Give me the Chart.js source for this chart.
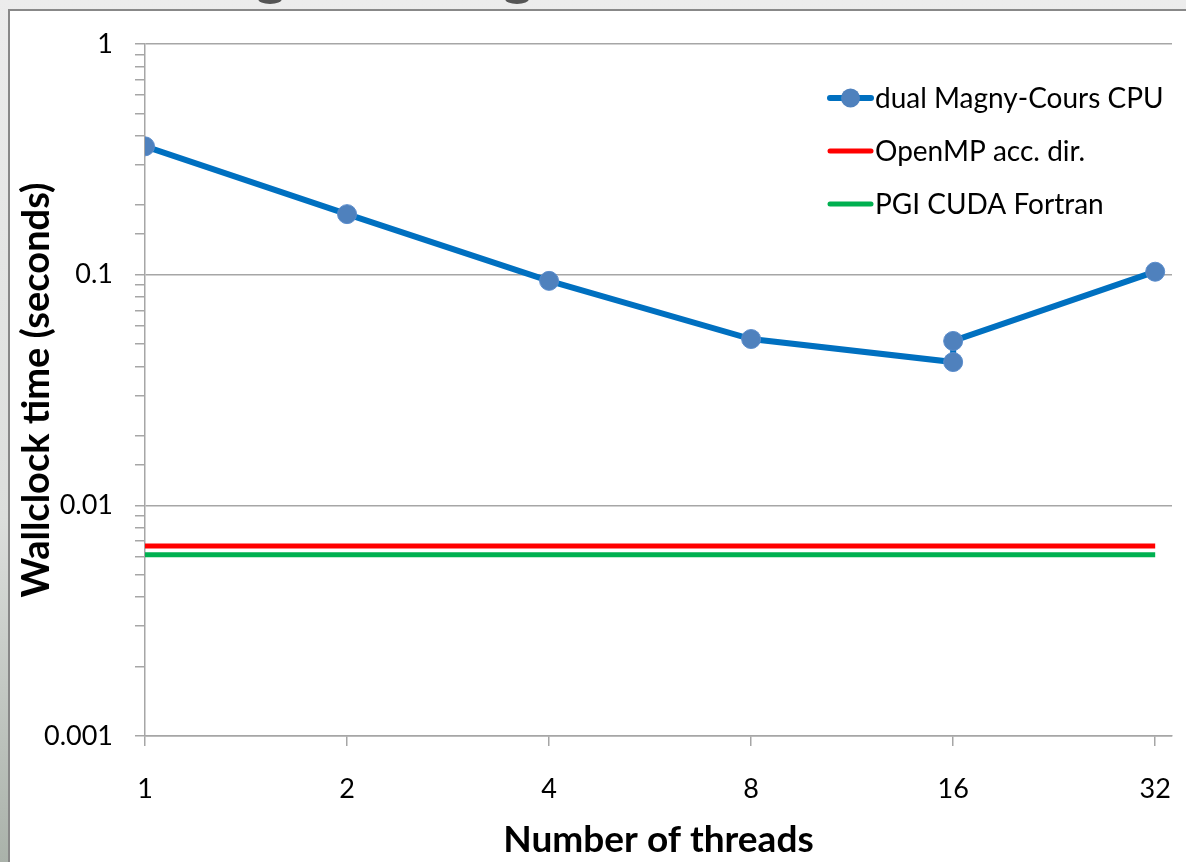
<!DOCTYPE html>
<html>
<head>
<meta charset="utf-8">
<script src="https://cdn.jsdelivr.net/npm/chart.js@4/dist/chart.umd.min.js"></script>
<style>
  html, body { margin: 0; padding: 0; }
  body {
    width: 1186px; height: 862px; overflow: hidden; position: relative;
    background: linear-gradient(to bottom, #ececec 0%, #dcdedc 60%, #aab2aa 100%);
  }
  #box {
    position: absolute; left: 8px; top: 9px; width: 1200px; height: 900px;
    background: #fff; border: 2px solid #888; box-sizing: border-box;
  }
  .frag { position: absolute; top: -6px; width: 24px; height: 10px; border-radius: 50%; background: #555; }
  #wrap { position: absolute; left: 0; top: 0; width: 1186px; height: 862px; }
</style>
</head>
<body>
<div class="frag" style="left:258px"></div>
<div class="frag" style="left:505px"></div>
<div id="box"></div>
<div id="wrap"><canvas id="chart" width="1186" height="862"></canvas></div>
<script>
// 스레드 수별 실행 시간 (로그-로그)
const threads = [1, 2, 4, 8, 16, 16, 32];
const cpuTimes = [0.36, 0.183, 0.094, 0.0526, 0.0418, 0.0516, 0.103];
const flatX = [1, 32];
const openmpTimes = [0.00667, 0.00667];
const cudaTimes = [0.0061, 0.0061];
const xTicks = [1, 2, 4, 8, 16, 32];
const yTicks = [0.001, 0.01, 0.1, 1];
const seriesLabels = ['dual Magny-Cours CPU', 'OpenMP acc. dir.', 'PGI CUDA Fortran'];

const FONT = 'Lato, "Open Sans", sans-serif';

const toPoints = (xs, ys) => xs.map((x, i) => ({ x, y: ys[i] }));

// 범례는 플롯 안쪽 오른쪽 위에 직접 그린다
const insideLegend = {
  id: 'insideLegend',
  afterDraw(chart) {
    const { ctx } = chart;
    const x0 = 830, x1 = 871, tx = 875;
    const rows = [98, 151, 204];
    ctx.save();
    ctx.font = '28px ' + FONT;
    ctx.textBaseline = 'middle';
    chart.data.datasets.forEach((ds, i) => {
      const y = rows[i];
      ctx.strokeStyle = ds.borderColor;
      ctx.lineWidth = ds.borderWidth;
      ctx.lineCap = 'round';
      ctx.beginPath();
      ctx.moveTo(x0, y);
      ctx.lineTo(x1, y);
      ctx.stroke();
      if (ds.pointRadius > 0) {
        ctx.fillStyle = ds.pointBackgroundColor;
        ctx.beginPath();
        ctx.arc((x0 + x1) / 2, y, ds.pointRadius, 0, Math.PI * 2);
        ctx.fill();
      }
      ctx.fillStyle = '#000';
      ctx.fillText(ds.label, tx, y + 1);
    });
    ctx.restore();
  },
};

new Chart(document.getElementById('chart').getContext('2d'), {
  type: 'line',
  data: {
    datasets: [
      {
        label: seriesLabels[0],
        data: toPoints(threads, cpuTimes),
        borderColor: '#0070c0',
        borderWidth: 6,
        pointRadius: 9.5,
        pointBackgroundColor: '#4f81bd',
        pointBorderColor: '#5a8ccc',
        pointBorderWidth: 1,
        tension: 0,
      },
      {
        label: seriesLabels[1],
        data: toPoints(flatX, openmpTimes),
        borderColor: '#ff0000',
        borderWidth: 5,
        pointRadius: 0,
      },
      {
        label: seriesLabels[2],
        data: toPoints(flatX, cudaTimes),
        borderColor: '#00b050',
        borderWidth: 5,
        pointRadius: 0,
      },
    ],
  },
  options: {
    responsive: false,
    animation: false,
    events: [],
    layout: { padding: { top: 44, right: 14, left: 0, bottom: 0 } },
    plugins: { legend: { display: false }, tooltip: { enabled: false } },
    scales: {
      x: {
        type: 'logarithmic',
        min: 1,
        max: 33.9,
        afterBuildTicks: (s) => { s.ticks = xTicks.map((v) => ({ value: v })); },
        afterFit: (s) => { s.height = 126; s.paddingLeft = 0; s.paddingRight = 0; },
        ticks: {
          autoSkip: false,
          maxRotation: 0,
          padding: 27,
          color: '#000',
          font: { family: FONT, size: 27 },
          callback: (v) => String(v),
        },
        grid: { drawOnChartArea: false, drawTicks: true, tickLength: 10, tickColor: '#a6a6a6', lineWidth: 1.5 },
        border: { color: '#a6a6a6', width: 1.5 },
        title: {
          display: true,
          text: 'Number of threads',
          color: '#000',
          font: { family: FONT, size: 37, weight: 'bold' },
          padding: { top: 0, bottom: 0 },
        },
      },
      y: {
        type: 'logarithmic',
        min: 0.001,
        max: 1,
        afterFit: (s) => { s.width = 145; },
        ticks: {
          autoSkip: false,
          padding: 22,
          color: '#000',
          font: { family: FONT, size: 27 },
          callback: (v) => (yTicks.some((t) => Math.abs(t - v) < t * 1e-6) ? String(v) : ''),
        },
        grid: {
          drawTicks: true,
          tickLength: 10,
          lineWidth: 1.5,
          color: (c) => (c.tick && c.tick.major ? '#a6a6a6' : 'rgba(0,0,0,0)'),
          tickColor: '#a6a6a6',
        },
        border: { color: '#a6a6a6', width: 1.5 },
        title: {
          display: true,
          text: 'Wallclock time (seconds)',
          color: '#000',
          font: { family: FONT, size: 38, weight: 'bold' },
          padding: { top: 14, bottom: 0 },
        },
      },
    },
  },
  plugins: [insideLegend],
});
</script>
</body>
</html>
